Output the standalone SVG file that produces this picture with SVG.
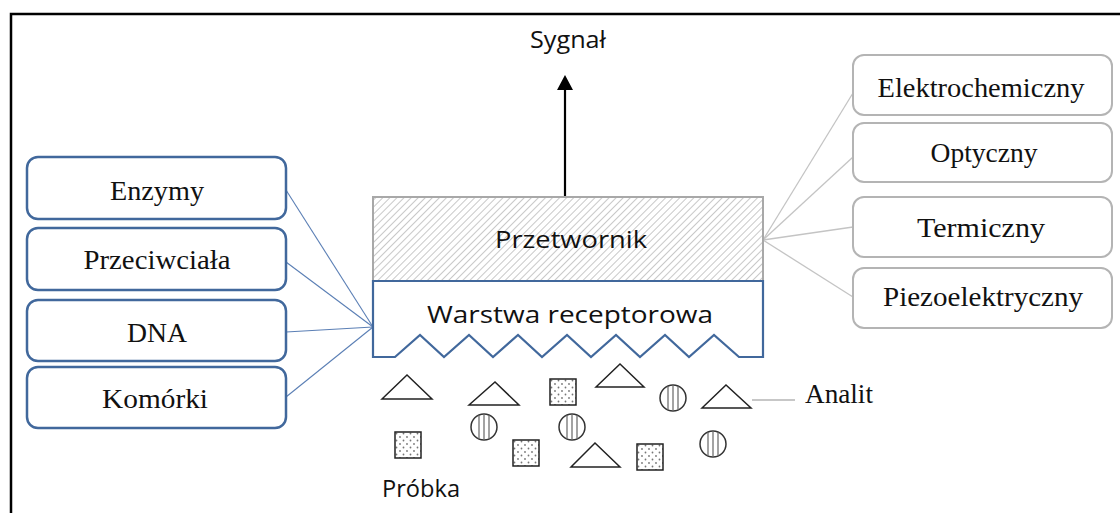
<svg xmlns="http://www.w3.org/2000/svg" width="1120" height="513" viewBox="0 0 1120 513">
<style>
.lbox{fill:#fff;stroke:#41689c;stroke-width:2.5}
.rbox{fill:#fff;stroke:#b4b4b4;stroke-width:2}
.serif{font-family:"Liberation Serif","Times New Roman",serif;font-size:27px;fill:#111;text-anchor:middle}
.sans{font-family:"Open Sans","Noto Sans",sans-serif;fill:#111;text-anchor:middle}
.lcon{stroke:#5b7fb5;stroke-width:1.1;fill:none}
.rcon{stroke:#c4c4c4;stroke-width:1.3;fill:none}
.shape{fill:#fff;stroke:#222;stroke-width:1.5}
</style>
<defs>
<pattern id="hatch" patternUnits="userSpaceOnUse" width="5" height="5" patternTransform="rotate(45)">
<rect width="5" height="5" fill="#fff"/>
<line x1="0" y1="0" x2="0" y2="5" stroke="#b0b0b0" stroke-width="1.4"/>
</pattern>
<pattern id="dots" patternUnits="userSpaceOnUse" width="7" height="7">
<rect width="7" height="7" fill="#fff"/>
<circle cx="1.5" cy="1.5" r="0.9" fill="#777"/>
<circle cx="5" cy="5" r="0.9" fill="#777"/>
</pattern>
<marker id="arr" markerWidth="16" markerHeight="16" refX="0" refY="8" orient="auto" markerUnits="userSpaceOnUse" viewBox="0 0 16 16">
<path d="M0,0 L15,8 L0,16 Z" fill="#000"/>
</marker>
<g id="sq"><rect x="0" y="0" width="26" height="26" fill="url(#dots)" stroke="#222" stroke-width="1.5"/></g>
<g id="disc"><circle cx="0" cy="0" r="13" fill="#fff" stroke="#333" stroke-width="1.5"/><line x1="-5" y1="-12" x2="-5" y2="12" stroke="#666" stroke-width="1.2"/><line x1="0" y1="-13" x2="0" y2="13" stroke="#666" stroke-width="1.2"/><line x1="5" y1="-12" x2="5" y2="12" stroke="#666" stroke-width="1.2"/></g>
</defs>
<rect width="1120" height="513" fill="#fff"/>
<path d="M11,513 V14 H1120" fill="none" stroke="#000" stroke-width="2.5"/>

<g id="connectors">
<line class="lcon" x1="286" y1="190" x2="373" y2="327"/>
<line class="lcon" x1="286" y1="262" x2="373" y2="327"/>
<line class="lcon" x1="286" y1="332" x2="373" y2="327"/>
<line class="lcon" x1="286" y1="397" x2="373" y2="327"/>
<line class="rcon" x1="763" y1="240" x2="853" y2="93"/>
<line class="rcon" x1="763" y1="240" x2="853" y2="157"/>
<line class="rcon" x1="763" y1="240" x2="853" y2="227"/>
<line class="rcon" x1="763" y1="240" x2="853" y2="297"/>
<line x1="752" y1="400" x2="795" y2="400" stroke="#b4b4b4" stroke-width="1.5"/>
<line x1="565" y1="197" x2="565" y2="90" stroke="#000" stroke-width="2.2" marker-end="url(#arr)"/>
</g>

<g id="sygnal"><text class="sans" x="568" y="48" font-size="23" textLength="76" lengthAdjust="spacingAndGlyphs">Sygnał</text></g>

<g id="przetwornik">
<rect x="373" y="197" width="390" height="84" fill="url(#hatch)" stroke="#a8a8a8" stroke-width="2"/>
<text class="sans" x="571" y="248" font-size="24" textLength="152" lengthAdjust="spacingAndGlyphs">Przetwornik</text>
</g>

<g id="warstwa">
<path d="M373,281 V357 H395 L420,335 L444,357 L469,335 L493,357 L518,335 L542,357 L567,335 L591,357 L616,335 L640,357 L665,335 L689,357 L714,335 L739,357 H763 V281 Z" fill="#fff" stroke="#41689c" stroke-width="2.2" stroke-linejoin="miter"/>
<text class="sans" x="570" y="323" font-size="24" textLength="286" lengthAdjust="spacingAndGlyphs">Warstwa receptorowa</text>
</g>

<g id="enzymy"><rect class="lbox" x="27" y="157" width="259" height="62" rx="11"/><text class="serif" x="157" y="200" textLength="94" lengthAdjust="spacingAndGlyphs">Enzymy</text></g>
<g id="przeciwciala"><rect class="lbox" x="27" y="228" width="259" height="62" rx="11"/><text class="serif" x="157" y="269" textLength="147" lengthAdjust="spacingAndGlyphs">Przeciwciała</text></g>
<g id="dna"><rect class="lbox" x="27" y="300" width="259" height="61" rx="11"/><text class="serif" x="157" y="342" textLength="60" lengthAdjust="spacingAndGlyphs">DNA</text></g>
<g id="komorki"><rect class="lbox" x="27" y="367" width="259" height="61" rx="11"/><text class="serif" x="155" y="408" textLength="106" lengthAdjust="spacingAndGlyphs">Komórki</text></g>

<g id="elektrochemiczny"><rect class="rbox" x="853" y="55" width="259" height="60" rx="11"/><text class="serif" x="981" y="97" textLength="207" lengthAdjust="spacingAndGlyphs">Elektrochemiczny</text></g>
<g id="optyczny"><rect class="rbox" x="853" y="123" width="259" height="59" rx="11"/><text class="serif" x="984" y="162" textLength="107" lengthAdjust="spacingAndGlyphs">Optyczny</text></g>
<g id="termiczny"><rect class="rbox" x="853" y="197" width="259" height="60" rx="11"/><text class="serif" x="981" y="237" textLength="128" lengthAdjust="spacingAndGlyphs">Termiczny</text></g>
<g id="piezoelektryczny"><rect class="rbox" x="853" y="268" width="259" height="60" rx="11"/><text class="serif" x="983" y="306" textLength="200" lengthAdjust="spacingAndGlyphs">Piezoelektryczny</text></g>

<g id="probka">
<path class="shape" d="M382,399 L407,375 L432,399 Z"/>
<path class="shape" d="M469,405 L495,382 L519,405 Z"/>
<path class="shape" d="M596,387 L620,364 L644,387 Z"/>
<path class="shape" d="M702,408 L726,385 L751,408 Z"/>
<path class="shape" d="M571,467 L595,443 L620,467 Z"/>
<use href="#sq" x="550" y="379"/>
<use href="#sq" x="395" y="432"/>
<use href="#sq" x="513" y="440"/>
<use href="#sq" x="637" y="444"/>
<use href="#disc" x="673" y="398"/>
<use href="#disc" x="484" y="427"/>
<use href="#disc" x="572" y="427"/>
<use href="#disc" x="713" y="444"/>
<text class="sans" x="421" y="497" font-size="23" textLength="78" lengthAdjust="spacingAndGlyphs">Próbka</text>
</g>

<g id="analit"><text x="805" y="403" font-family="Liberation Serif, Times New Roman, serif" font-size="27" fill="#111" textLength="68" lengthAdjust="spacingAndGlyphs">Analit</text></g>
</svg>
